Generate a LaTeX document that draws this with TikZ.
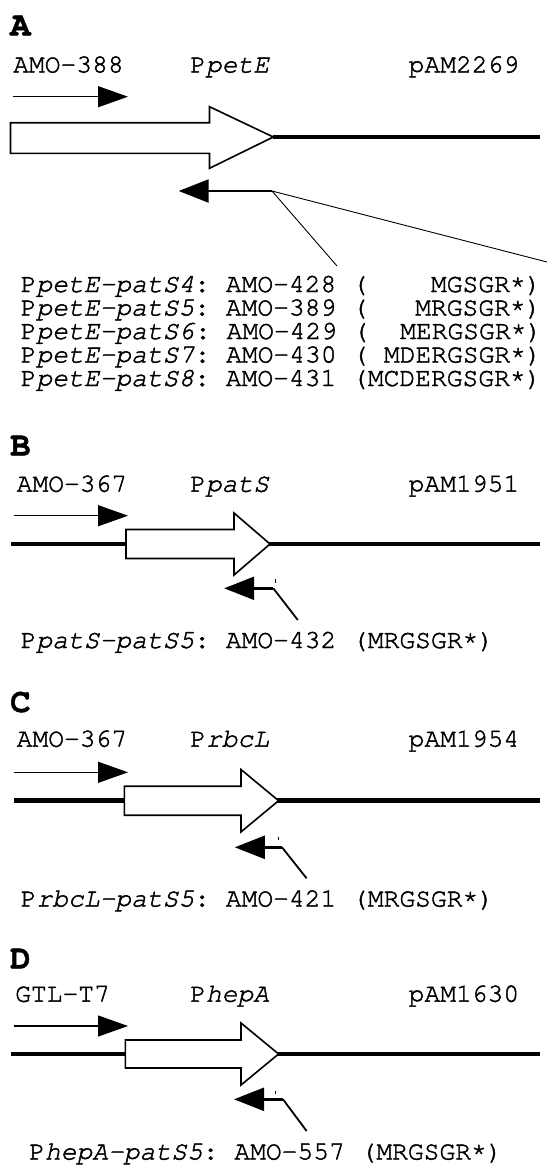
\documentclass[tikz,border=0pt]{standalone}
\usepackage[T1]{fontenc}
\usetikzlibrary{arrows.meta}
\newcommand\cour{\fontencoding{T1}\fontfamily{pcr}\selectfont\frenchspacing}
\newcommand\heavy[1]{\special{pdf:literal direct 2 Tr 0.45 w}#1\special{pdf:literal direct 0 Tr}}
\newcommand\stopast{\raisebox{3.5bp}{*}}
\tikzset{
  lbl/.style={anchor=base west, inner sep=0pt, font=\cour\fontsize{26.3bp}{26.3bp}\selectfont},
  plab/.style={anchor=base west, inner sep=0pt, font=\cour\bfseries\fontsize{34bp}{34bp}\selectfont},
  dna/.style={line width=4.5bp},
  prom/.style={draw, line width=1.6bp, fill=white, line join=miter},
  fwd/.style={line width=1.3bp, -{Triangle[length=30bp, width=21bp]}},
  rev/.style={line width=2.4bp, -{Triangle[length=30bp, width=23bp]}},
  elbow/.style={line width=1.8bp},
  thinl/.style={line width=0.9bp},
  tick/.style={line width=0.5bp},
}
\begin{document}
\begin{tikzpicture}[x=1bp, y=-1bp]
\useasboundingbox (0,0) rectangle (547,1165);
\fill[white] (0,0) rectangle (547,1165);

% ---------------- Panel A ----------------
\node[plab] (labA) at (10,35.5) {\heavy{A}};
\node[lbl] (a388) at (13,72.5) {\heavy{AMO-388}};
\node[lbl] (apet) at (190,72.5) {\heavy{P\textit{petE}}};
\node[lbl] (apam) at (408.5,72.5) {\heavy{pAM2269}};
\coordinate (af1) at (13.3,96.7);
\coordinate (af2) at (128,96.7);
\draw[fwd] (af1) -- (af2);
\draw[prom] (10.5,122.7) -- (209.5,122.7) -- (209.5,106.7) -- (273.3,137) -- (209.5,168.3) -- (209.5,153.3) -- (10.5,153.3) -- cycle;
\coordinate (atip) at (273.3,137);
\coordinate (aend) at (539.5,137);
\draw[dna] (atip) -- (aend);
\coordinate (ar1) at (272,191);
\coordinate (ar2) at (178.7,191);
\draw[rev] (ar1) -- (ar2);
\coordinate (az1) at (337,266);
\coordinate (az2) at (547,262);
\draw[thinl] (az1) -- (ar1) -- (az2);
\node[lbl] (r1) at (20.5,292) {\heavy{P\textit{petE-patS4}: AMO-428 (\ \ \ \ MGSGR\stopast)}};
\node[lbl] (r2) at (20.5,315.5) {\heavy{P\textit{petE-patS5}: AMO-389 (\ \ \ MRGSGR\stopast)}};
\node[lbl] (r3) at (20.5,339) {\heavy{P\textit{petE-patS6}: AMO-429 (\ \ MERGSGR\stopast)}};
\node[lbl] (r4) at (20.5,362.5) {\heavy{P\textit{petE-patS7}: AMO-430 (\ MDERGSGR\stopast)}};
\node[lbl] (r5) at (20.5,386) {\heavy{P\textit{petE-patS8}: AMO-431 (MCDERGSGR\stopast)}};

% ---------------- Panel B ----------------
\node[plab] (labB) at (10,455.5) {\heavy{B}};
\node[lbl] (b367) at (16.5,491.7) {\heavy{AMO-367}};
\node[lbl] (bpat) at (190,491.7) {\heavy{P\textit{patS}}};
\node[lbl] (bpam) at (408.5,491.7) {\heavy{pAM1951}};
\coordinate (bf1) at (14,515.7);
\coordinate (bf2) at (128,515.7);
\draw[fwd] (bf1) -- (bf2);
\coordinate (bl1) at (10.5,544);
\coordinate (bl2) at (539.5,544);
\draw[dna] (bl1) -- (bl2);
\draw[prom] (126,529.5) -- (234,529.5) -- (234,513) -- (270,544) -- (234,575) -- (234,558.5) -- (126,558.5) -- cycle;
\coordinate (br1) at (273.3,588.3);
\coordinate (br2) at (224.2,588.3);
\coordinate (bz) at (297.8,620);
\draw[rev] (br1) -- (br2);
\draw[elbow] (br1) -- (bz);
\coordinate (bt1) at (275,579);
\coordinate (bt2) at (275,582.5);
\draw[tick] (bt1) -- (bt2);
\node[lbl] (bt) at (20.5,648) {\heavy{P\textit{patS-patS5}: AMO-432 (MRGSGR\stopast)}};

% ---------------- Panel C ----------------
\node[plab] (labC) at (10,712) {\heavy{C}};
\node[lbl] (c367) at (16.5,746.7) {\heavy{AMO-367}};
\node[lbl] (crbc) at (190,746.7) {\heavy{P\textit{rbcL}}};
\node[lbl] (cpam) at (408.5,746.7) {\heavy{pAM1954}};
\coordinate (cf1) at (14,772.3);
\coordinate (cf2) at (128,772.3);
\draw[fwd] (cf1) -- (cf2);
\coordinate (cl1) at (14,800.7);
\coordinate (cl2) at (539.5,800.7);
\draw[dna] (cl1) -- (cl2);
\draw[prom] (124.4,786.2) -- (241,786.2) -- (241,769.5) -- (278.6,800.7) -- (241,831.9) -- (241,815.2) -- (124.4,815.2) -- cycle;
\coordinate (cr1) at (282,847.3);
\coordinate (cr2) at (234.8,847.3);
\coordinate (cz) at (306.6,878.3);
\draw[rev] (cr1) -- (cr2);
\draw[elbow] (cr1) -- (cz);
\coordinate (ct1) at (278.6,836.7);
\coordinate (ct2) at (278.6,840);
\draw[tick] (ct1) -- (ct2);
\node[lbl] (ctx) at (20.5,906.5) {\heavy{P\textit{rbcL-patS5}: AMO-421 (MRGSGR\stopast)}};

% ---------------- Panel D ----------------
\node[plab] (labD) at (10,968.5) {\heavy{D}};
\node[lbl] (dgtl) at (15,1001.7) {\heavy{GTL-T7}};
\node[lbl] (dhep) at (190,1001.7) {\heavy{P\textit{hepA}}};
\node[lbl] (dpam) at (408.5,1001.7) {\heavy{pAM1630}};
\coordinate (df1) at (14,1026);
\coordinate (df2) at (128,1026);
\draw[fwd] (df1) -- (df2);
\coordinate (dl1) at (10.5,1054);
\coordinate (dl2) at (539.5,1054);
\draw[dna] (dl1) -- (dl2);
\draw[prom] (125.4,1040) -- (241,1040) -- (241,1023) -- (278.6,1054) -- (241,1085) -- (241,1068) -- (125.4,1068) -- cycle;
\coordinate (dr1) at (283,1099.3);
\coordinate (dr2) at (234,1099.3);
\coordinate (dz) at (306.6,1131);
\draw[rev] (dr1) -- (dr2);
\draw[elbow] (dr1) -- (dz);
\coordinate (dt1) at (275,1090.5);
\coordinate (dt2) at (275,1093.5);
\draw[tick] (dt1) -- (dt2);
\node[lbl] (dtx) at (29,1159.5) {\heavy{P\textit{hepA-patS5}: AMO-557 (MRGSGR\stopast)}};
\end{tikzpicture}
\end{document}
